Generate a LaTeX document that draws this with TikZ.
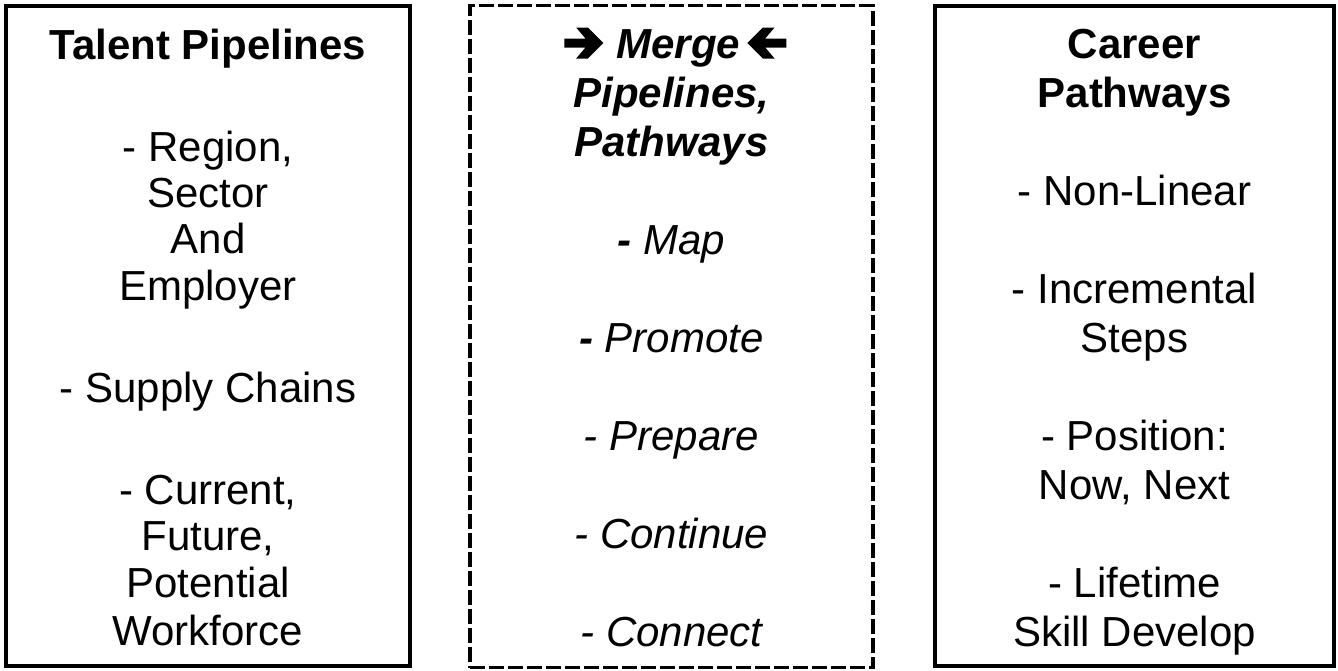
\documentclass[tikz,border=0pt]{standalone}
\usepackage{fontspec}
\setmainfont{Liberation Sans}
\usetikzlibrary{calc}
\begin{document}
\begin{tikzpicture}[x=1pt,y=-1pt,
  panel/.style={draw=black,line width=4pt,inner sep=0pt},
  mergepanel/.style={draw=black,line width=3.3pt,dash pattern=on 15pt off 4pt,inner sep=0pt},
  txt/.style={anchor=base,inner sep=0pt,font=\fontsize{42}{49}\selectfont},
  head/.style={txt,font=\fontsize{42}{49}\selectfont\bfseries},
  headit/.style={txt,font=\fontsize{42}{49}\selectfont\bfseries\itshape},
  item/.style={txt,font=\fontsize{42}{49}\selectfont\itshape},
  heavyarrow/.pic={\fill (0,0) -- (-15.7,-15.5) -- (-27.3,-15.5) -- (-18,-4.5)
      -- (-39,-4.5) -- (-39,4.5) -- (-18,4.5) -- (-27.3,15.5) -- (-15.7,15.5) -- cycle;}]
\useasboundingbox (0,0) rectangle (1338,670);

% the three panels
\node[panel,minimum width=404pt,minimum height=660pt] (talentbox) at (208,336) {};
\node[mergepanel,minimum width=403pt,minimum height=662pt] (mergebox) at (671.5,336.5) {};
\node[panel,minimum width=399pt,minimum height=660pt] (careerbox) at (1134.5,336) {};

% left panel: talent pipelines (baselines given directly)
\node[head] (tl0) at (208,59) {Talent Pipelines};
\foreach \y/\t [count=\k] in {161/{- Region,},207/{Sector},253.5/{And},300/{Employer},
                   402/{- Supply Chains},504/{- Current,},550/{Future,},597/{Potential},645/{Workforce}}
  \node[txt] (tl\k) at (208,\y) {\t};

% middle panel: merging
\node[headit] (merge) at (678.5,58) {Merge};
\pic at ($(merge.base west)+(-13,-15)$) {heavyarrow};
\pic[rotate=180] at ($(merge.base east)+(6.7,-15)$) {heavyarrow};
\node[headit] (md1) at (671.5,{58+49.08}) {Pipelines,};
\node[headit] (md2) at (671.5,{58+49.08*2}) {Pathways};
\node[item] (md4) at (671.5,{58+49.08*4}) {{\bfseries -} Map};
\node[item] (md6) at (671.5,{58+49.08*6}) {{\bfseries -} Promote};
\foreach \k/\t in {8/{- Prepare},10/{- Continue},12/{- Connect}}
  \node[item] (md\k) at (671.5,{58+49.08*\k}) {\t};

% right panel: career pathways
\node[head] (cr0) at (1134.5,58) {Career};
\node[head] (cr1) at (1134.5,{58+49.08}) {Pathways};
\foreach \k/\t in {3/{- Non-Linear},5/{- Incremental},6/{Steps},8/{- Position:},
                   9/{Now, Next},11/{- Lifetime},12/{Skill Develop}}
  \node[txt] (cr\k) at (1134.5,{58+49.08*\k}) {\t};
\end{tikzpicture}
\end{document}
